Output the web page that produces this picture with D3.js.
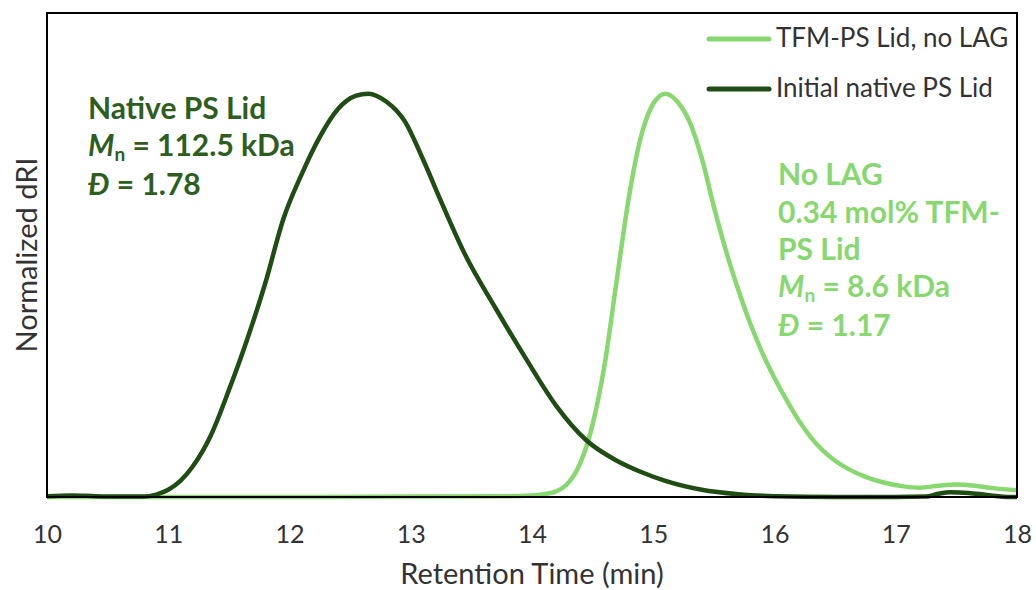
<!DOCTYPE html>
<html lang="en">
<head>
<meta charset="UTF-8">
<title>GPC traces</title>
<script src="https://d3js.org/d3.v7.min.js"></script>
<style>
  body { margin: 0; background: #fff; }
  text { font-family: Lato, "Open Sans", sans-serif; }
</style>
</head>
<body>
<script>
// retention time (min) and normalized dRI
const nativeTime = [10, 10.2, 10.4, 10.6, 10.8, 10.9, 11.0, 11.1, 11.2, 11.35, 11.5, 11.65, 11.8, 11.95,
  12.1, 12.25, 12.4, 12.55, 12.65, 12.8, 12.95, 13.1, 13.25, 13.45, 13.7, 13.95, 14.2, 14.45,
  14.7, 14.9, 15.1, 15.4, 15.7, 16.0, 16.5, 17.0, 17.25, 17.35, 17.45, 17.6, 17.75, 17.95, 18];
const nativeDRI = [0.002, 0.004, 0.002, 0.001, 0.001, 0.006, 0.018, 0.04, 0.075, 0.152, 0.265, 0.39, 0.53, 0.69,
  0.80, 0.893, 0.962, 0.995, 1.0, 0.98, 0.932, 0.838, 0.733, 0.60, 0.468, 0.343, 0.226, 0.14,
  0.09, 0.062, 0.04, 0.018, 0.007, 0.002, 0.0, 0.0, 0.001, 0.008, 0.012, 0.01, 0.005, 0.0, 0.0];

const tfmTime = [10, 11, 12, 13, 13.8, 14.0, 14.1, 14.2, 14.3, 14.4, 14.5, 14.6, 14.7, 14.8, 14.9, 15.0,
  15.1, 15.2, 15.3, 15.4, 15.5, 15.6, 15.7, 15.8, 15.9, 16.0, 16.1, 16.2, 16.3, 16.4, 16.5, 16.6,
  16.75, 16.9, 17.05, 17.2, 17.35, 17.5, 17.65, 17.8, 18.0];
const tfmDRI = [0, 0, 0, 0.001, 0.002, 0.004, 0.007, 0.014, 0.035, 0.085, 0.18, 0.33, 0.54, 0.745, 0.895, 0.975,
  1.0, 0.98, 0.93, 0.84, 0.72, 0.61, 0.515, 0.43, 0.357, 0.295, 0.24, 0.19, 0.148, 0.115, 0.09, 0.071,
  0.05, 0.036, 0.027, 0.023, 0.028, 0.031, 0.028, 0.022, 0.017];

const xTicks = [10, 11, 12, 13, 14, 15, 16, 17, 18];

const seriesNames = ["TFM-PS Lid, no LAG", "Initial native PS Lid"];
const darkGreen = "#1f4d14", lightGreen = "#88d870";
const darkText = "#2d5e1e";

const width = 1036, height = 590;
const margin = { top: 13, right: 19, bottom: 93, left: 47 };

const svg = d3.select("body").append("svg")
  .attr("width", width)
  .attr("height", height);

const x = d3.scaleLinear().domain([10, 18]).range([margin.left, width - margin.right]);
const y = d3.scaleLinear().domain([0, 1.2]).range([height - margin.bottom, margin.top]);

svg.append("clipPath").attr("id", "plotclip")
  .append("rect")
  .attr("x", margin.left).attr("y", margin.top - 5)
  .attr("width", x(18) - x(10)).attr("height", y(0) - margin.top + 8);

const line = d3.line()
  .x(d => x(d[0]))
  .y(d => y(d[1]))
  .curve(d3.curveMonotoneX);

const tfm = tfmTime.map((t, i) => [t, tfmDRI[i]]);
const native = nativeTime.map((t, i) => [t, nativeDRI[i]]);

const g = svg.append("g").attr("clip-path", "url(#plotclip)");
g.append("path").datum(tfm)
  .attr("fill", "none").attr("stroke", lightGreen).attr("stroke-width", 4.5)
  .attr("stroke-linejoin", "round")
  .attr("d", line);
g.append("path").datum(native)
  .attr("fill", "none").attr("stroke", darkGreen).attr("stroke-width", 4.5)
  .attr("stroke-linejoin", "round")
  .attr("d", line);

// frame
svg.append("rect")
  .attr("x", x(10)).attr("y", margin.top)
  .attr("width", x(18) - x(10)).attr("height", y(0) - margin.top)
  .attr("fill", "none").attr("stroke", "#000").attr("stroke-width", 2);

// x axis labels (no tick marks)
const xAxis = svg.append("g")
  .attr("transform", `translate(0,${y(0)})`)
  .call(d3.axisBottom(x).tickValues(xTicks).tickSize(0).tickPadding(28));
xAxis.select(".domain").remove();
xAxis.selectAll("text")
  .attr("font-family", "Lato, sans-serif")
  .attr("font-size", 25)
  .attr("fill", "#333");

svg.append("text")
  .attr("x", (x(10) + x(18)) / 2).attr("y", 584)
  .attr("text-anchor", "middle")
  .attr("font-size", 29).attr("fill", "#333")
  .text("Retention Time (min)");

svg.append("text")
  .attr("transform", `translate(37,${(margin.top + y(0)) / 2}) rotate(-90)`)
  .attr("text-anchor", "middle")
  .attr("font-size", 29).attr("fill", "#333")
  .text("Normalized dRI");

// legend
const legend = svg.append("g");
[lightGreen, darkGreen].forEach((c, i) => {
  const ly = 39 + i * 50;
  legend.append("line")
    .attr("x1", 709).attr("x2", 769).attr("y1", ly).attr("y2", ly)
    .attr("stroke", c).attr("stroke-width", 5).attr("stroke-linecap", "round");
  legend.append("text")
    .attr("x", 776).attr("y", ly + 8)
    .attr("font-size", 26).attr("fill", "#333")
    .text(seriesNames[i]);
});

// annotations
function mnLine(sel, xPos, yPos, value, color) {
  const t = sel.append("text").attr("x", xPos).attr("y", yPos)
    .attr("font-size", 30).attr("font-weight", 700).attr("fill", color);
  t.append("tspan").attr("font-style", "italic").text("M");
  t.append("tspan").attr("dy", 5).attr("font-size", 19).text("n");
  t.append("tspan").attr("dy", -5).text(" = " + value);
}
function dispLine(sel, xPos, yPos, value, color) {
  const t = sel.append("text").attr("x", xPos).attr("y", yPos)
    .attr("font-size", 30).attr("font-weight", 700).attr("fill", color);
  t.append("tspan").attr("font-style", "italic").text("Đ");
  t.append("tspan").text(" = " + value);
}

const ann = svg.append("g");
ann.append("text").attr("x", 88).attr("y", 119)
  .attr("font-size", 30).attr("font-weight", 700).attr("fill", darkText)
  .text("Native PS Lid");
mnLine(ann, 88, 156, "112.5 kDa", darkText);
dispLine(ann, 88, 195, "1.78", darkText);

["No LAG", "0.34 mol% TFM-", "PS Lid"].forEach((s, i) => {
  ann.append("text").attr("x", 778).attr("y", 185 + i * 37.5)
    .attr("font-size", 30).attr("font-weight", 700).attr("fill", lightGreen)
    .text(s);
});
mnLine(ann, 778, 297, "8.6 kDa", lightGreen);
dispLine(ann, 778, 336, "1.17", lightGreen);
</script>
</body>
</html>
